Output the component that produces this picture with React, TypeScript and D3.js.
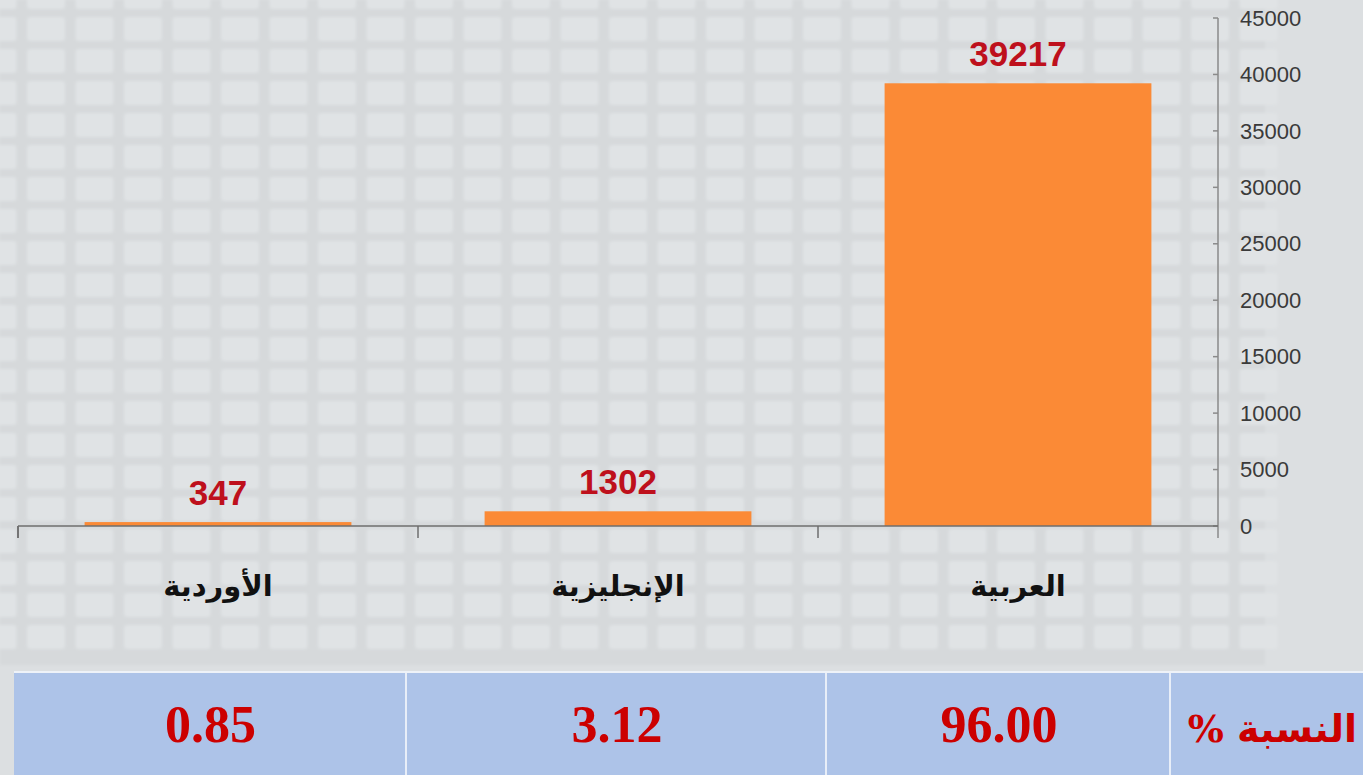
import React from 'react';
import * as d3 from 'd3';

const categories = ['العربية', 'الإنجليزية', 'الأوردية'];
const counts = [39217, 1302, 347];
const percents = ['96.00', '3.12', '0.85'];
const yTicks = [0, 5000, 10000, 15000, 20000, 25000, 30000, 35000, 40000, 45000];
const tableHeader = 'النسبة %';

const W = 1363;
const H = 775;

export default function App() {
  const x = d3.scaleBand<string>().domain(categories).range([1218, 18]).paddingInner(0.333).paddingOuter(0.1665);
  const y = d3.scaleLinear().domain([0, 45000]).range([526, 18]);
  const step = x.step();
  const bandStarts = categories.map((c) => (x(c) as number) - x.paddingInner() * step / 2);

  const cols = d3.range(-1, 30);
  const rows = d3.range(-1, 22);
  const cellW = 48.5;
  const cellH = 32;

  const tableTop = 673;
  const cellEdges = [14, 407, 827, 1171, W];
  const tableCols = [...percents].reverse().concat([tableHeader]);

  return (
    <svg width={W} height={H} style={{ position: 'absolute', left: 0, top: 0 }}>
      <defs>
        <filter id="soft" x="-5%" y="-5%" width="110%" height="110%">
          <feGaussianBlur stdDeviation="1.8" />
        </filter>
      </defs>
      <rect x={0} y={0} width={W} height={H} fill="#DCDFE1" />
      <rect x={0} y={0} width={1265} height={665} fill="#D6D9DB" filter="url(#soft)" />
      <g filter="url(#soft)">
        {cols.map((i) =>
          rows.map((j) => {
            const cx = 27 + i * cellW;
            const cy = 17 + j * cellH;
            if (cx > 1260 || cy > 650) return null;
            return (
              <rect
                key={`${i}-${j}`}
                x={cx}
                y={cy}
                width={38}
                height={24}
                rx={3}
                fill="#E0E3E5"
              />
            );
          })
        )}
      </g>

      {/* Y axis */}
      <line x1={1218} x2={1218} y1={y(45000)} y2={538} stroke="#8A8A8A" strokeWidth={1.5} />
      {yTicks.map((t) => (
        <g key={t}>
          <line x1={1213} x2={1218} y1={y(t)} y2={y(t)} stroke="#8A8A8A" strokeWidth={1.5} />
          <text
            x={1240}
            y={y(t)}
            dy="0.35em"
            fontFamily="Liberation Sans, Arial, sans-serif"
            fontSize={22}
            fill="#3A3A3A"
          >
            {t}
          </text>
        </g>
      ))}

      {/* Bars */}
      {categories.map((c, i) => (
        <rect
          key={c}
          x={x(c)}
          y={y(counts[i])}
          width={x.bandwidth()}
          height={y(0) - y(counts[i])}
          fill="#FB8A36"
        />
      ))}

      {/* X axis */}
      <line x1={18} x2={1218} y1={y(0)} y2={y(0)} stroke="#6E6E6E" strokeWidth={1.5} />
      {[...bandStarts, 18].map((bx, i) => (
        <line key={i} x1={bx} x2={bx} y1={y(0)} y2={538} stroke="#6E6E6E" strokeWidth={1.5} />
      ))}

      {/* Value labels */}
      {categories.map((c, i) => (
        <text
          key={c}
          x={(x(c) as number) + x.bandwidth() / 2}
          y={y(counts[i]) - 17}
          textAnchor="middle"
          fontFamily="Liberation Sans, Arial, sans-serif"
          fontWeight="bold"
          fontSize={35}
          fill="#BE101C"
        >
          {counts[i]}
        </text>
      ))}

      {/* Category labels */}
      {categories.map((c) => (
        <text
          key={c}
          x={(x(c) as number) + x.bandwidth() / 2}
          y={596}
          textAnchor="middle"
          direction="rtl"
          fontFamily="DejaVu Sans, sans-serif"
          fontWeight="bold"
          fontSize={29}
          fill="#111"
        >
          {c}
        </text>
      ))}

      {/* Table */}
      <rect x={14} y={tableTop - 2} width={W - 14} height={2} fill="#EEF2F8" />
      {tableCols.map((t, i) => {
        const x0 = cellEdges[i];
        const x1 = cellEdges[i + 1];
        const isHeader = i === tableCols.length - 1;
        return (
          <g key={i}>
            <rect x={x0} y={tableTop} width={x1 - x0} height={H - tableTop} fill="#ADC3E8" />
            <text
              x={isHeader ? 1357 : (x0 + x1) / 2}
              y={742}
              textAnchor={isHeader ? 'start' : 'middle'}
              direction={isHeader ? 'rtl' : 'ltr'}
              fontFamily={isHeader ? 'DejaVu Serif, DejaVu Sans, serif' : 'Liberation Serif, Times New Roman, serif'}
              fontWeight="bold"
              fontSize={isHeader ? 38 : 52}
              fill="#CC0000"
            >
              {t}
            </text>
          </g>
        );
      })}
      {cellEdges.slice(1, 4).map((e, i) => (
        <rect key={i} x={e - 2} y={tableTop} width={2} height={H - tableTop} fill="#E8EEF8" />
      ))}
    </svg>
  );
}
